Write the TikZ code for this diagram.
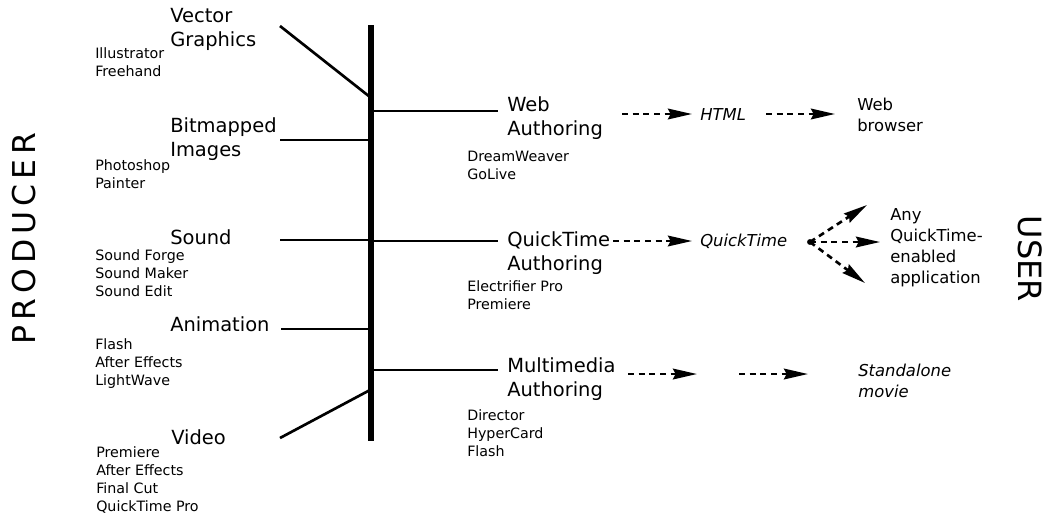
\documentclass[tikz,border=0pt]{standalone}
\usepackage{fontspec}
\setmainfont{DejaVu Sans}
\usetikzlibrary{arrows.meta}
\newcommand\stackl[1]{\begin{tabular}[t]{@{}l@{}}#1\end{tabular}}
\tikzset{
  big/.style={anchor=base west, inner sep=0pt, font=\fontsize{14.6}{18}\selectfont},
  small/.style={anchor=base west, inner sep=0pt, font=\fontsize{10.7}{13.5}\selectfont},
  mid/.style={anchor=base west, inner sep=0pt, font=\fontsize{12.3}{15.75}\selectfont},
  midit/.style={anchor=base west, inner sep=0pt, font=\fontsize{12.3}{15.75}\selectfont\itshape},
  bar/.style={line width=3.8pt},
  branch/.style={line width=2pt},
  flow/.style={line width=2pt, dash pattern=on 4.5pt off 3.5pt,
    -{Stealth[length=18pt,width=8pt,inset=2pt]}},
}
\begin{document}
\begin{tikzpicture}[x=0.75pt,y=-0.75pt]
\useasboundingbox (0,0) rectangle (1048,519);

% side titles
\node[rotate=90, anchor=base, inner sep=0pt,
  font=\fontsize{23.6}{28}\selectfont\addfontfeature{LetterSpace=16}] (producer) at (35,238.5) {PRODUCER};
\node[rotate=-90, anchor=base, inner sep=0pt,
  font=\fontsize{24}{28}\selectfont] (user) at (1018,259) {USER};

% producer labels
\node[big] (vg) at (170,22) {\stackl{Vector\\Graphics}};
\node[small] (vgs) at (95,58) {\stackl{Illustrator\\Freehand}};
\node[big] (bi) at (170,132.5) {\stackl{Bitmapped\\Images}};
\node[small] (bis) at (95,170) {\stackl{Photoshop\\Painter}};
\node[big] (snd) at (170,244) {Sound};
\node[small] (snds) at (95,260) {\stackl{Sound Forge\\Sound Maker\\Sound Edit}};
\node[big] (anim) at (170,331.5) {Animation};
\node[small] (anims) at (95,349) {\stackl{Flash\\After Effects\\LightWave}};
\node[big] (vid) at (171,444) {Video};
\node[small] (vids) at (96,457) {\stackl{Premiere\\After Effects\\Final Cut\\QuickTime Pro}};

% authoring labels
\node[big] (web) at (507,111.5) {\stackl{Web\\Authoring}};
\node[small] (webs) at (467,161.5) {\stackl{DreamWeaver\\GoLive}};
\node[big] (qt) at (507,246.5) {\stackl{QuickTime\\Authoring}};
\node[small] (qts) at (467,291.5) {\stackl{Electrifier Pro\\Premiere}};
\node[big] (mm) at (507,372.5) {\stackl{Multimedia\\Authoring}};
\node[small] (mms) at (467,420) {\stackl{Director\\HyperCard\\Flash}};

% outputs
\node[midit] (html) at (700,120) {HTML};
\node[midit] (qtf) at (700,246.5) {QuickTime};
\node[mid] (wb) at (857,110) {\stackl{Web\\browser}};
\node[mid] (any) at (890,220) {\stackl{Any\\QuickTime-\\enabled\\application}};
\node[midit] (sm) at (858,376) {\stackl{Standalone\\movie}};

% coordinates
\coordinate (bt) at (371,25);
\coordinate (bb) at (371,441);
\coordinate (vgL) at (280,26);   \coordinate (vgR) at (370,97);
\coordinate (biL) at (280,140);  \coordinate (biR) at (370,140);
\coordinate (sndL) at (280,240); \coordinate (sndR) at (370,240);
\coordinate (anL) at (281,329);  \coordinate (anR) at (370,329);
\coordinate (viL) at (280,438);  \coordinate (viR) at (370,390);
\coordinate (webL) at (372,111); \coordinate (webR) at (498,111);
\coordinate (qtL) at (372,241);  \coordinate (qtR) at (498,241);
\coordinate (mmL) at (372,370);  \coordinate (mmR) at (498,370);

\coordinate (a1s) at (622,114); \coordinate (a1e) at (692,114);
\coordinate (a2s) at (766,114); \coordinate (a2e) at (835,114);
\coordinate (a3s) at (613,241); \coordinate (a3e) at (692,241);
\coordinate (a4s) at (628,374); \coordinate (a4e) at (697,374);
\coordinate (a5s) at (739,374); \coordinate (a5e) at (808,374);
\coordinate (fan) at (810,242);
\coordinate (f1) at (867,205);
\coordinate (f2) at (880,242);
\coordinate (f3) at (865,283);

% lines
\draw[bar] (bt) -- (bb);
\draw[branch] (vgL) -- (vgR);
\draw[branch] (biL) -- (biR);
\draw[branch] (sndL) -- (sndR);
\draw[branch] (anL) -- (anR);
\draw[branch] (viL) -- (viR);
\draw[branch] (webL) -- (webR);
\draw[branch] (qtL) -- (qtR);
\draw[branch] (mmL) -- (mmR);

% arrows
\draw[flow] (a1s) -- (a1e);
\draw[flow] (a2s) -- (a2e);
\draw[flow] (a3s) -- (a3e);
\draw[flow] (a4s) -- (a4e);
\draw[flow] (a5s) -- (a5e);
\fill (fan) circle[radius=2.2pt];
\draw[flow] (fan) -- (f1);
\draw[flow] (fan) -- (f2);
\draw[flow] (fan) -- (f3);
\end{tikzpicture}
\end{document}
